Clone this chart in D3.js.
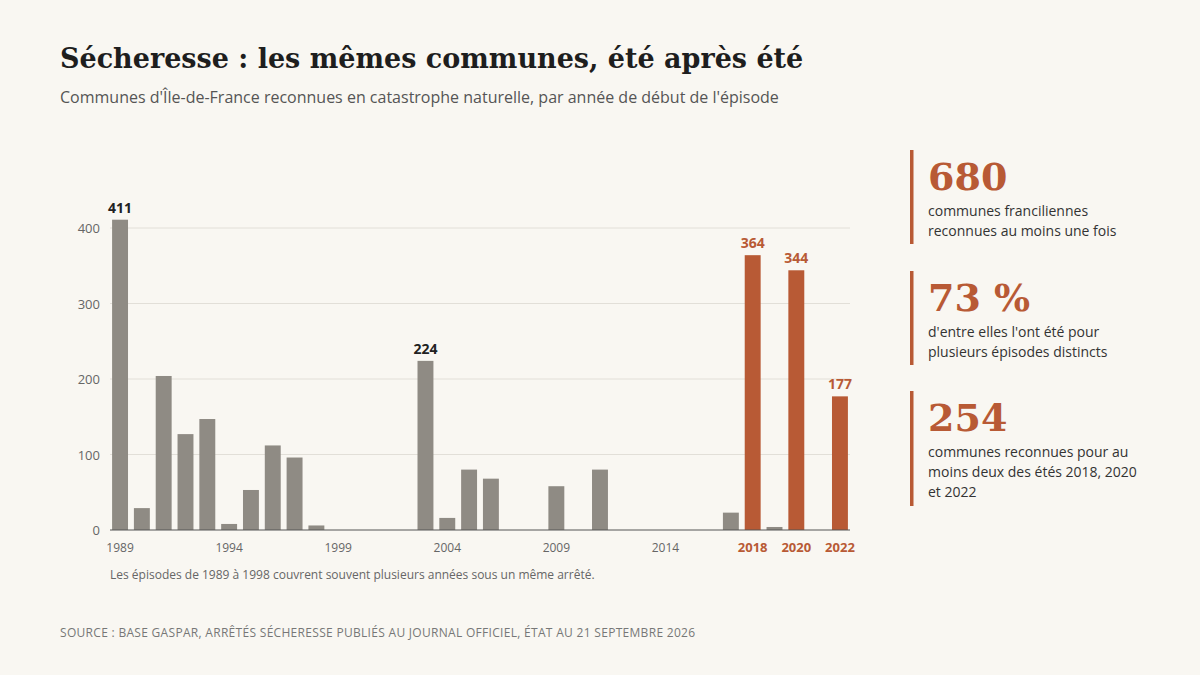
<!DOCTYPE html>
<html><head><meta charset="utf-8">
<script src="https://cdn.jsdelivr.net/npm/d3@7"></script>
<style>
body{margin:0;background:#f9f7f2;}
svg{display:block;}
</style></head>
<body><div id="chart-area"></div>
<script>
// années de début d'épisode et nombre de communes reconnues
const years = d3.range(1989, 2023);
const counts = [411, 29, 204, 127, 147, 8, 53, 112, 96, 6, 0, 0, 0, 0, 224, 16, 80, 68, 0, 0, 58, 0, 80, 0, 0, 0, 0, 0, 23, 364, 4, 344, 0, 177];
const highlightYears = [2018, 2020, 2022];
const labelledYears = [1989, 2003, 2018, 2020, 2022];
const tickYears = [1989, 1994, 1999, 2004, 2009, 2014];
const yTicks = [0, 100, 200, 300, 400];
const statValues = ["680", "73 %", "254"];
const statTexts = [
  ["communes franciliennes", "reconnues au moins une fois"],
  ["d'entre elles l'ont été pour", "plusieurs épisodes distincts"],
  ["communes reconnues pour au", "moins deux des étés 2018, 2020", "et 2022"]
];

const data = years.map((y, i) => ({year: y, value: counts[i]}));
const grey = "#8f8b84", orange = "#b85a35";
const sans = "'Open Sans', sans-serif", serif = "'DejaVu Serif', Georgia, serif";

const svg = d3.select("#chart-area").append("svg")
  .attr("width", 1200).attr("height", 675);
svg.append("rect").attr("width", 1200).attr("height", 675).attr("fill", "#f9f7f2");

svg.append("text").attr("x", 60).attr("y", 68)
  .attr("font-family", serif).attr("font-weight", "bold").attr("font-size", 27)
  .attr("fill", "#1e1e1e").text("Sécheresse : les mêmes communes, été après été");
svg.append("text").attr("x", 60).attr("y", 103)
  .attr("font-family", sans).attr("font-size", 16).attr("fill", "#555")
  .text("Communes d'Île-de-France reconnues en catastrophe naturelle, par année de début de l'épisode");

const x = d3.scaleBand().domain(years).range([111, 849]).paddingInner(0.27).paddingOuter(0.05);
const y = d3.scaleLinear().domain([0, 400]).range([530, 228]);

// grille
svg.append("g").selectAll("line").data(yTicks.slice(1)).enter().append("line")
  .attr("x1", 110).attr("x2", 850)
  .attr("y1", d => y(d)).attr("y2", d => y(d))
  .attr("stroke", "#e2dfd8").attr("stroke-width", 1);

svg.append("g").selectAll("text").data(yTicks).enter().append("text")
  .attr("x", 100).attr("y", d => y(d) + 5).attr("text-anchor", "end")
  .attr("font-family", sans).attr("font-size", 13).attr("fill", "#666")
  .text(d => d);

svg.append("g").selectAll("rect").data(data).enter().append("rect")
  .attr("x", d => x(d.year)).attr("width", x.bandwidth())
  .attr("y", d => y(d.value)).attr("height", d => y(0) - y(d.value))
  .attr("fill", d => highlightYears.includes(d.year) ? orange : grey);

svg.append("line").attr("x1", 110).attr("x2", 850)
  .attr("y1", y(0)).attr("y2", y(0)).attr("stroke", "#555").attr("stroke-width", 1);

svg.append("g").selectAll("text").data(data.filter(d => labelledYears.includes(d.year))).enter().append("text")
  .attr("x", d => x(d.year) + x.bandwidth() / 2).attr("y", d => y(d.value) - 7)
  .attr("text-anchor", "middle").attr("font-family", sans).attr("font-weight", "bold").attr("font-size", 14)
  .attr("fill", d => highlightYears.includes(d.year) ? orange : "#222")
  .text(d => d.value);

const xTicks = tickYears.map(t => ({year: t, hi: false})).concat(highlightYears.map(t => ({year: t, hi: true})));
svg.append("g").selectAll("text").data(xTicks).enter().append("text")
  .attr("x", d => x(d.year) + x.bandwidth() / 2).attr("y", 552)
  .attr("text-anchor", "middle").attr("font-family", sans)
  .attr("font-size", d => d.hi ? 13 : 12).attr("font-weight", d => d.hi ? "bold" : "normal")
  .attr("fill", d => d.hi ? orange : "#666")
  .text(d => d.year);

svg.append("text").attr("x", 110).attr("y", 579)
  .attr("font-family", sans).attr("font-size", 12).attr("fill", "#666")
  .text("Les épisodes de 1989 à 1998 couvrent souvent plusieurs années sous un même arrêté.");

svg.append("text").attr("x", 60).attr("y", 637)
  .attr("font-family", sans).attr("font-size", 12).attr("fill", "#777").attr("letter-spacing", 0.3)
  .text("SOURCE : BASE GASPAR, ARRÊTÉS SÉCHERESSE PUBLIÉS AU JOURNAL OFFICIEL, ÉTAT AU 21 SEPTEMBRE 2026");

// chiffres clés
const tops = [150, 271, 391];
statValues.forEach((v, i) => {
  const g = svg.append("g").attr("transform", `translate(910,${tops[i]})`);
  const h = statTexts[i].length === 3 ? 115 : 94;
  g.append("rect").attr("width", 3.5).attr("height", h).attr("fill", orange);
  g.append("text").attr("x", 18).attr("y", 40)
    .attr("font-family", serif).attr("font-weight", "bold").attr("font-size", 38)
    .attr("fill", orange).text(v);
  statTexts[i].forEach((t, j) => g.append("text").attr("x", 18).attr("y", 66 + j * 20)
    .attr("font-family", sans).attr("font-size", 14).attr("fill", "#333").text(t));
});
</script></body></html>
